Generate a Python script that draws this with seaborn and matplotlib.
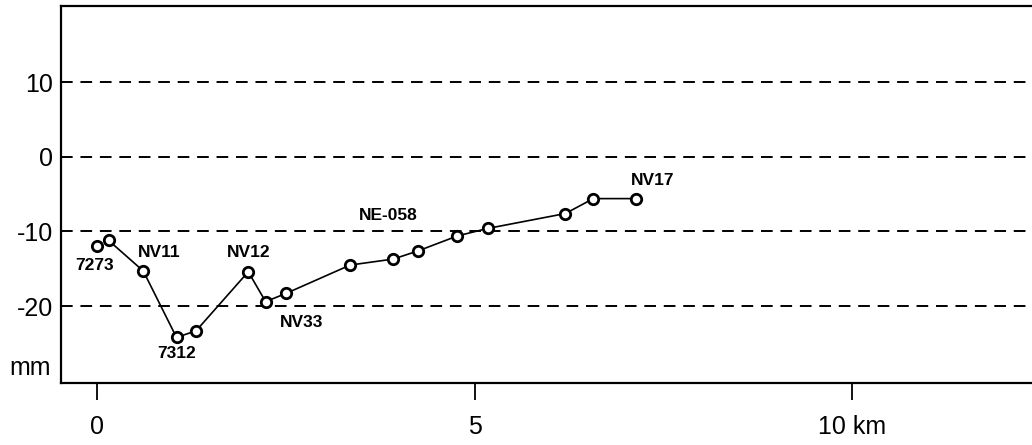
import matplotlib
matplotlib.use("Agg")
import matplotlib.pyplot as plt
import seaborn as sns
import pandas as pd

# distance along profile (km) and displacement (mm)
dist_km = [0.0, 0.15, 0.61, 1.05, 1.31, 2.0, 2.23, 2.5, 3.35, 3.92, 4.25, 4.77, 5.17, 6.2, 6.57, 7.14]
disp_mm = [-12.0, -11.2, -15.3, -24.2, -23.3, -15.4, -19.4, -18.3, -14.5, -13.7, -12.6, -10.6, -9.6, -7.6, -5.6, -5.6]
connected = [False] + [True] * 15

label_names = ["7273", "NV11", "7312", "NV12", "NV33", "NE-058", "NV17"]
label_x = [-0.03, 0.82, 1.05, 2.0, 2.7, 3.85, 7.35]
label_y = [-14.6, -12.8, -26.3, -12.8, -22.2, -7.8, -3.2]

xticks = [0, 5, 10]
xticklabels = ["0", "5", "10 km"]
yticks = [-20, -10, 0, 10]
yticklabels = ["-20", "-10", "0", "10"]

df = pd.DataFrame({"dist": dist_km, "disp": disp_mm, "conn": connected})

sns.set_theme(style="white")
plt.rcParams["font.family"] = ["Liberation Sans", "DejaVu Sans"]

fig = plt.figure(figsize=(10.32, 4.45), dpi=100)
ax = fig.add_axes([61 / 1032, 1 - 383 / 445, 971 / 1032, (383 - 6) / 445])

for yv in yticks:
    ax.axhline(yv, color="black", lw=1.4, ls=(0, (6, 4)), zorder=1)

sns.lineplot(data=df[df.conn], x="dist", y="disp", sort=False, ax=ax,
             color="black", lw=1.2, marker="o", markersize=7.5,
             markerfacecolor="white", markeredgecolor="black",
             markeredgewidth=2.0, zorder=3)
sns.scatterplot(data=df[~df.conn], x="dist", y="disp", ax=ax, s=55,
                facecolor="white", edgecolor="black", linewidth=2.0, zorder=3)

for name, lx, ly in zip(label_names, label_x, label_y):
    ax.text(lx, ly, name, ha="center", va="center", fontsize=12.5,
            fontweight="bold", color="black")

ax.set_xlim(-0.48, 12.38)
ax.set_ylim(-30.3, 20.2)
ax.set_xticks(xticks)
ax.set_xticklabels(xticklabels)
ax.set_yticks(yticks)
ax.set_yticklabels(yticklabels)
ax.set_xlabel("")
ax.set_ylabel("")
ax.text(-0.01, -28.3, "mm", transform=ax.get_yaxis_transform(),
        ha="right", va="center", fontsize=18, color="black")

ax.tick_params(axis="x", direction="out", length=12, width=1.3, pad=11,
               labelsize=18, colors="black", bottom=True)
ax.tick_params(axis="y", length=0, pad=6, labelsize=18, colors="black")

for side in ["left", "bottom", "top"]:
    ax.spines[side].set_visible(True)
    ax.spines[side].set_color("black")
    ax.spines[side].set_linewidth(1.6)
ax.spines["right"].set_visible(False)

fig.savefig("out.png", dpi=100, facecolor="white")
